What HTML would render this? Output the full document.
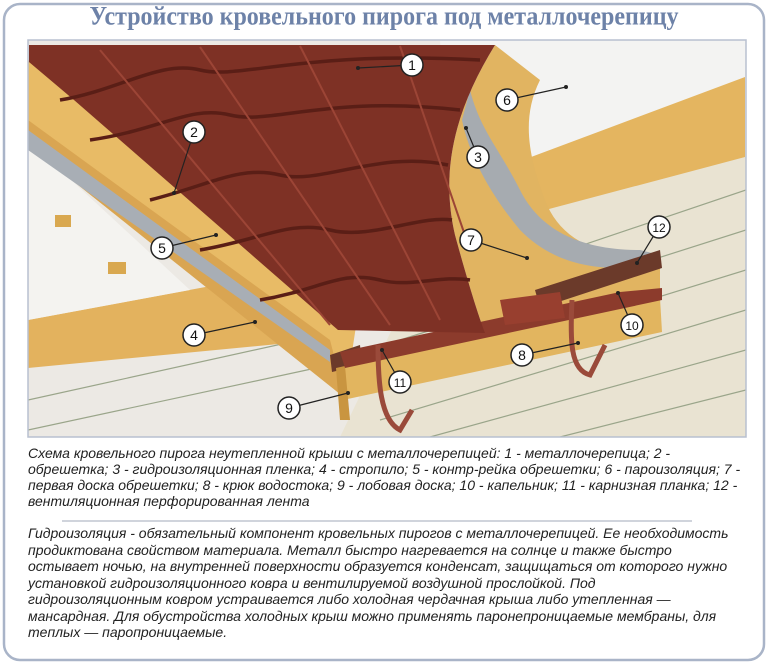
<!DOCTYPE html>
<html><head><meta charset="utf-8">
<style>
html,body{margin:0;padding:0;background:#fff;}
#w{position:relative;width:768px;height:665px;overflow:hidden;}
.t{position:absolute;left:0;width:768px;text-align:center;top:4px;font:bold 24px "Liberation Serif","Noto Serif CJK SC",serif;color:#6d82a8;transform:scaleY(1.08);}
.p{position:absolute;left:28px;font:italic 14px "Liberation Sans",sans-serif;color:#222;white-space:nowrap;line-height:16px;}
</style></head><body><div id="w">
<svg width="768" height="665" style="position:absolute;left:0;top:0">
<rect x="4" y="4" width="760" height="656" rx="16" fill="#fff" stroke="#a9b4c8" stroke-width="2.5"/>
<g>
<clipPath id="c"><rect x="28" y="40" width="718" height="397"/></clipPath>
<g clip-path="url(#c)">
<rect x="28" y="40" width="718" height="397" fill="#ece9e4"/>
<polygon points="440,40 746,40 746,80 450,190" fill="#f3f3f2"/>
<polygon points="440,230 746,150 746,437 340,437" fill="#e9e3d2"/>
<g stroke="#9aa58a" stroke-width="1.2">
<line x1="420" y1="300" x2="746" y2="190"/><line x1="400" y1="340" x2="746" y2="230"/>
<line x1="390" y1="380" x2="746" y2="270"/><line x1="380" y1="420" x2="746" y2="310"/>
<line x1="430" y1="437" x2="746" y2="350"/><line x1="560" y1="437" x2="746" y2="390"/>
<line x1="28" y1="400" x2="300" y2="340"/><line x1="28" y1="430" x2="330" y2="365"/>
</g>
<polygon points="451,187 745,77 745,157 534,213" fill="#e4b560"/>
<polygon points="451,187 534,213 534,240 460,220" fill="#d9a048"/>
<polygon points="28,320 270,275 320,340 28,368" fill="#e3b25e"/>
<polygon points="28,140 28,320 190,290" fill="#f4f3f0"/>
<rect x="55" y="215" width="16" height="12" fill="#d9a850"/>
<rect x="108" y="262" width="18" height="12" fill="#d9a850"/>
<polygon points="28,60 360,300 345,398 28,145" fill="#e8bb66"/>
<polygon points="28,120 330,340 345,398 28,145" fill="#d9a552"/>
<polygon points="28,130 330,350 330,362 28,150" fill="#a8aeb5"/>
<path d="M495,45 C455,110 440,170 455,235 C470,290 480,320 485,333 L660,290 L660,255 C600,260 560,240 545,200 C530,160 520,120 540,80 Z" fill="#e1b461"/>
<path d="M470,90 C480,130 500,150 520,190 C540,230 580,250 640,250 L660,255 L660,265 C590,275 550,260 520,230 C495,200 470,160 462,120 Z" fill="#a6abb0"/>
<polygon points="535,290 660,250 662,268 540,308" fill="#6b3a2a"/>
<polygon points="330,355 360,345 362,365 332,372" fill="#6b3a2a"/>
<polygon points="338,368 660,298 662,332 343,400" fill="#e2b55f"/>
<polygon points="336,368 345,366 350,420 340,420" fill="#c99540"/>
<polygon points="340,352 620,292 662,288 662,300 345,368" fill="#8c3b2c"/>
<polygon points="500,300 560,292 565,318 505,325" fill="#983f2f"/>
<path d="M29,45 L495,45 C455,110 440,170 455,235 C470,290 480,320 485,333 L338,330 L74,100 L29,62 Z" fill="#7e3125"/>
<g stroke="#5a1e16" stroke-width="3.5" fill="none">
<path d="M60,100 C120,90 160,60 200,70 C240,80 300,50 480,60"/>
<path d="M90,140 C160,130 190,105 230,115 C270,125 330,95 460,110"/>
<path d="M150,200 C210,185 240,165 280,175 C320,185 380,150 448,165"/>
<path d="M200,250 C260,240 290,220 330,230 C370,240 420,215 452,220"/>
<path d="M260,300 C320,290 340,270 380,280 C410,288 440,275 470,280"/>
</g>
<g stroke="#9c4536" stroke-width="2" fill="none">
<line x1="100" y1="50" x2="330" y2="325"/><line x1="200" y1="47" x2="390" y2="325"/>
<line x1="300" y1="46" x2="440" y2="320"/><line x1="400" y1="46" x2="470" y2="250"/>
</g>
<path d="M378,345 C378,380 380,420 400,430 L412,410" stroke="#9a4a3a" stroke-width="5" fill="none"/>
<path d="M572,300 C570,340 570,370 590,375 L605,345" stroke="#9a4a3a" stroke-width="5" fill="none"/>
</g>
<rect x="28" y="40" width="718" height="397" fill="none" stroke="#b8c0d0" stroke-width="1.5"/>
</g>
<g stroke="#222" stroke-width="1.2">
<line x1="412" y1="65" x2="358" y2="68"/><line x1="194" y1="132" x2="174" y2="193"/>
<line x1="478" y1="157" x2="466" y2="128"/><line x1="194" y1="335" x2="255" y2="322"/>
<line x1="162" y1="248" x2="216" y2="235"/><line x1="507" y1="100" x2="566" y2="87"/>
<line x1="471" y1="240" x2="527" y2="258"/><line x1="522" y1="355" x2="578" y2="343"/>
<line x1="289" y1="408" x2="348" y2="393"/><line x1="632" y1="325" x2="618" y2="293"/>
<line x1="400" y1="382" x2="382" y2="350"/><line x1="659" y1="227" x2="637" y2="263"/>
</g>
<g fill="#222"><circle cx="358" cy="68" r="2"/><circle cx="174" cy="193" r="2"/><circle cx="466" cy="128" r="2"/><circle cx="255" cy="322" r="2"/><circle cx="216" cy="235" r="2"/><circle cx="566" cy="87" r="2"/><circle cx="527" cy="258" r="2"/><circle cx="578" cy="343" r="2"/><circle cx="348" cy="393" r="2"/><circle cx="618" cy="293" r="2"/><circle cx="382" cy="350" r="2"/><circle cx="637" cy="263" r="2"/></g>
<g fill="#fff" stroke="#222" stroke-width="1.5">
<circle cx="412" cy="65" r="11"/><circle cx="194" cy="132" r="11"/><circle cx="478" cy="157" r="11"/><circle cx="194" cy="335" r="11"/><circle cx="162" cy="248" r="11"/><circle cx="507" cy="100" r="11"/><circle cx="471" cy="240" r="11"/><circle cx="522" cy="355" r="11"/><circle cx="289" cy="408" r="11"/><circle cx="632" cy="325" r="11"/><circle cx="400" cy="382" r="11"/><circle cx="659" cy="227" r="11"/>
</g>
<g font-family="Liberation Sans,sans-serif" font-size="14" text-anchor="middle" fill="#111">
<text x="412" y="70">1</text><text x="194" y="137">2</text><text x="478" y="162">3</text><text x="194" y="340">4</text><text x="162" y="253">5</text><text x="507" y="105">6</text><text x="471" y="245">7</text><text x="522" y="360">8</text><text x="289" y="413">9</text><text x="632" y="330" font-size="12">10</text><text x="400" y="387" font-size="12">11</text><text x="659" y="232" font-size="12">12</text>
</g>
<line x1="62" y1="521" x2="692" y2="521" stroke="#a0a8b8" stroke-width="1"/>
</svg>
<div class="t">Устройство кровельного пирога под металлочерепицу</div>
<div class="p" style="top:445px">Схема кровельного пирога неутепленной крыши с металлочерепицей: 1 - металлочерепица; 2 -<br>обрешетка; 3 - гидроизоляционная пленка; 4 - стропило; 5 - контр-рейка обрешетки; 6 - пароизоляция; 7 -<br>первая доска обрешетки; 8 - крюк водостока; 9 - лобовая доска; 10 - капельник; 11 - карнизная планка; 12 -<br>вентиляционная перфорированная лента</div>
<div class="p" style="top:525px;line-height:16.5px">Гидроизоляция - обязательный компонент кровельных пирогов с металлочерепицей. Ее необходимость<br>продиктована свойством материала. Металл быстро нагревается на солнце и также быстро<br>остывает ночью, на внутренней поверхности образуется конденсат, защищаться от которого нужно<br>установкой гидроизоляционного ковра и вентилируемой воздушной прослойкой. Под<br>гидроизоляционным ковром устраивается либо холодная чердачная крыша либо утепленная —<br>мансардная. Для обустройства холодных крыш можно применять паронепроницаемые мембраны, для<br>теплых — паропроницаемые.</div>
</div></body></html>
